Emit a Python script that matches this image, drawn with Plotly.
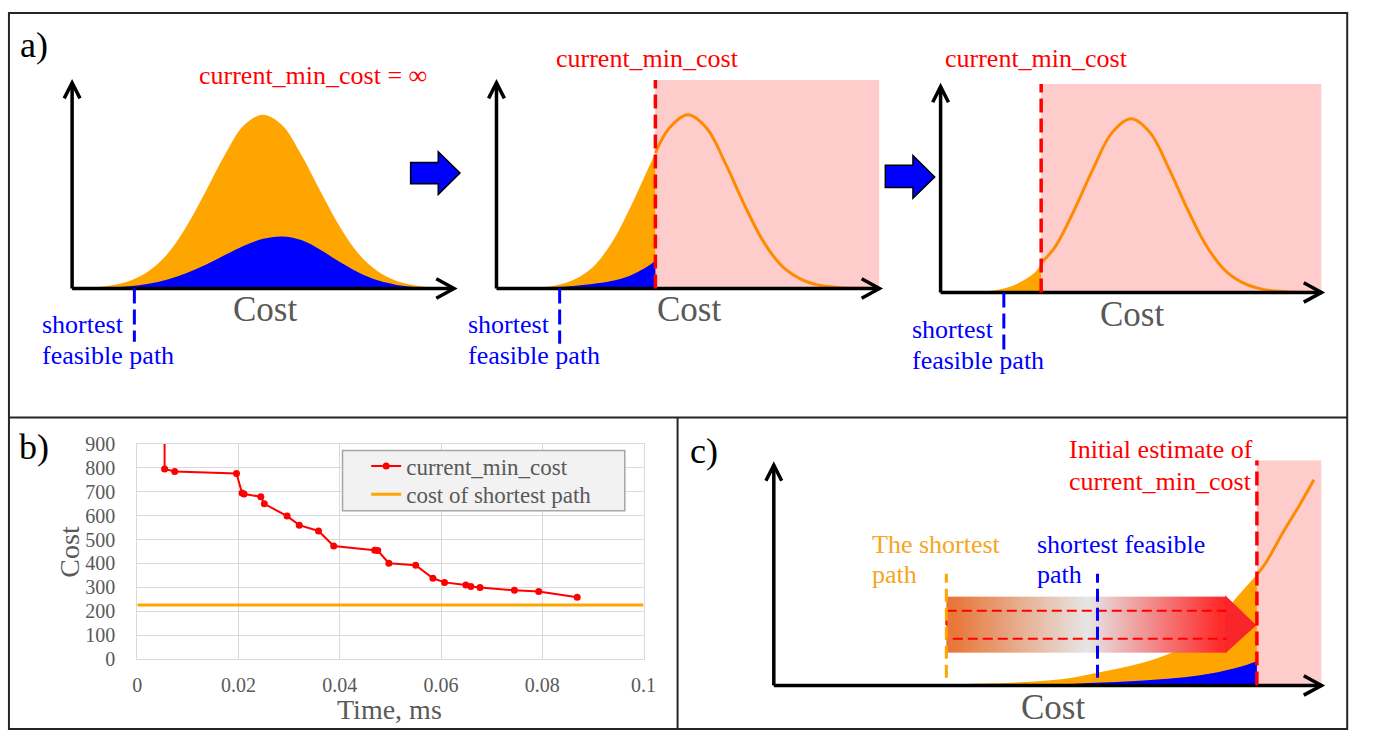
import plotly.graph_objects as go

W, H = 1375, 743
FONT = "Liberation Serif"
GRAY = "#595959"
ORANGE_FILL = "#ffa500"
ORANGE_LINE = "#ff8a00"
BLUE = "#0000ff"
RED = "#ff0000"
PINK = "#ffcccc"

# ---------------- b) chart data ----------------
TIME_MS = [0.0054, 0.0054, 0.0074, 0.0196, 0.0207, 0.0211, 0.0244, 0.0251, 0.0296, 0.0320,
           0.0358, 0.0388, 0.0469, 0.0475, 0.0497, 0.0550, 0.0584, 0.0607, 0.0649, 0.0659,
           0.0677, 0.0745, 0.0793, 0.0869]
CURRENT_MIN_COST = [1000, 795, 784, 776, 694, 690, 679, 649, 598, 560,
                    536, 473, 455, 454, 401, 393, 338, 321, 310, 304,
                    300, 288, 283, 259]
SHORTEST_PATH_COST = 226
X_TICKS = [0, 0.02, 0.04, 0.06, 0.08, 0.1]
X_TICK_LABELS = ["0", "0.02", "0.04", "0.06", "0.08", "0.1"]
Y_TICKS = [0, 100, 200, 300, 400, 500, 600, 700, 800, 900]

# ---------------- a) schematic curves (cost 0..100, height: orange peak = 100) ----------------
COST_GRID = [0, 5, 10, 15, 20, 25, 30, 35, 40, 45, 50, 55, 60, 65, 70, 75, 80, 85, 90, 95, 100]
A1_ORANGE = [0.2, 0.6, 1.7, 4.4, 10, 20, 36, 56, 77, 94, 100, 94, 77, 56, 36, 20, 10, 4.4, 1.7, 0.6, 0.2]
A1_BLUE = [0.08, 0.23, 0.57, 1.3, 2.7, 5.2, 8.9, 13.7, 19.3, 24.7, 28.6, 30, 27.9, 22.3, 15.4, 9.2, 4.7, 2.1, 0.8, 0.26, 0.06]
A1_FEASIBLE = 16.3

A2_THRESHOLD = 41.5
A2_FILL_COST = [0, 5, 10, 15, 20, 25, 30, 35, 40, 41.5]
A2_ORANGE_FILL = [0, 0.1, 0.5, 1.6, 4.9, 12, 26, 47, 71, 78]
A2_BLUE_FILL = [0, 0.1, 0.3, 0.8, 1.5, 2.6, 4.3, 7.5, 13.5, 16.2]
A2_LINE_COST = [41.5, 45, 50, 55, 60, 65, 70, 75, 80, 85, 90, 95, 100]
A2_ORANGE_LINE = [78, 92, 100, 92, 71, 47, 26, 12, 4.9, 1.6, 0.5, 0.1, 0]
A2_FEASIBLE = 16.5

A3_THRESHOLD = 26.4
A3_FILL_COST = [0, 5, 10, 15, 20, 25, 26.4]
A3_ORANGE_FILL = [0, 0.1, 0.5, 1.6, 4.9, 12, 17]
A3_BLUE_FILL = [0, 0, 0.1, 0.2, 0.4, 0.6, 0.8]
A3_LINE_COST = [26.4, 30, 35, 40, 45, 50, 55, 60, 65, 70, 75, 80, 85, 90, 95, 100]
A3_ORANGE_LINE = [17, 26, 47, 71, 92, 100, 92, 71, 47, 26, 12, 4.9, 1.6, 0.5, 0.1, 0]
A3_FEASIBLE = 16.6

# ---------------- c) schematic curves (cost 0..100, height in px units) ----------------
C_THRESHOLD = 88.2
C_FILL_COST = [15, 20, 30, 40, 45, 50, 55, 60, 65, 70, 75, 80, 85, 88.2]
C_ORANGE = [0, 0.3, 1, 2.2, 3.2, 5, 8.5, 14, 20, 28, 40, 62, 94, 114]
C_BLUE = [0, 0, 0, 0.3, 0.6, 1, 1.8, 3, 4.3, 6, 8.5, 12.5, 19, 25]
C_LINE_COST = [88.2, 90, 93, 96, 98.6]
C_LINE_H = [114, 128, 158, 186, 212]
C_SHORTEST = 31.5
C_FEASIBLE = 59.1

# colour ramp of the gradient arrow body (left -> right)
ARROW_RAMP = [0.0, 0.05, 0.1, 0.15, 0.2, 0.25, 0.3, 0.35, 0.4, 0.45, 0.5,
              0.55, 0.6, 0.65, 0.7, 0.75, 0.8, 0.85, 0.9, 0.95, 1.0]
ARROW_COLORS = [[0, "#e8773a"], [0.5, "#e6e6e6"], [1, "#ff2a2a"]]


def px(x):
    return x / W


def py(y):
    return 1 - y / H


fig = go.Figure()

# ---------------- b) chart ----------------
fig.add_trace(go.Scatter(
    x=TIME_MS, y=CURRENT_MIN_COST, mode="lines+markers", name="current_min_cost",
    line=dict(color=RED, width=2), marker=dict(color=RED, size=7),
    xaxis="x", yaxis="y", legend="legend"))
fig.add_trace(go.Scatter(
    x=[X_TICKS[0], X_TICKS[-1]], y=[SHORTEST_PATH_COST, SHORTEST_PATH_COST], mode="lines",
    name="cost of shortest path", line=dict(color=ORANGE_FILL, width=3),
    xaxis="x", yaxis="y", legend="legend2"))

fig.update_layout(
    xaxis=dict(domain=[px(134), px(647)], range=[0, 0.1], tickvals=X_TICKS, ticktext=X_TICK_LABELS,
               showgrid=True, gridcolor="#d9d9d9", gridwidth=1, showline=True, linecolor="#d9d9d9",
               mirror=True, zeroline=False, ticks="outside", ticklen=8, tickcolor="rgba(0,0,0,0)",
               tickfont=dict(family=FONT, size=20, color=GRAY), anchor="y", fixedrange=True),
    yaxis=dict(domain=[py(668), py(446)], range=[0, 900], tickvals=Y_TICKS,
               showgrid=True, gridcolor="#d9d9d9", gridwidth=1, showline=True, linecolor="#d9d9d9",
               mirror=True, zeroline=False, ticks="outside", ticklen=17, tickcolor="rgba(0,0,0,0)",
               tickfont=dict(family=FONT, size=20, color=GRAY), anchor="x", fixedrange=True),
)

# ---------------- hidden schematic axes ----------------
A_UNIT = 1.79
A_YMAX, A_YMIN = 120, -45
A_PANELS = [
    dict(idx=2, x0=68, x1=455, base=286, tip=74),
    dict(idx=3, x0=498, x1=886, base=286, tip=74),
    dict(idx=4, x0=948, x1=1334, base=290, tip=78),
]
layout_axes = {}
for p in A_PANELS:
    i = p["idx"]
    layout_axes[f"xaxis{i}"] = dict(domain=[px(p["x0"]), px(p["x1"])], range=[0, 100], visible=False,
                                    anchor=f"y{i}", fixedrange=True)
    layout_axes[f"yaxis{i}"] = dict(domain=[py(p["base"] - A_YMIN * A_UNIT), py(p["base"] - A_YMAX * A_UNIT)],
                                    range=[A_YMIN, A_YMAX], visible=False, anchor=f"x{i}", fixedrange=True)
C_PANEL = dict(x0=779, x1=1334, base=695, tip=468, top=463)
C_YMAX = C_PANEL["base"] - C_PANEL["top"]
layout_axes["xaxis5"] = dict(domain=[px(C_PANEL["x0"]), px(C_PANEL["x1"])], range=[0, 100], visible=False,
                             anchor="y5", fixedrange=True)
layout_axes["yaxis5"] = dict(domain=[py(C_PANEL["base"]), py(C_PANEL["top"])],
                             range=[0, C_YMAX], visible=False, anchor="x5", fixedrange=True)
# overlay axes so the arrow is drawn above the c) curves
layout_axes["xaxis6"] = dict(overlaying="x5", range=[0, 100], visible=False, anchor="y6", fixedrange=True)
layout_axes["yaxis6"] = dict(overlaying="y5", range=[0, C_YMAX], visible=False, anchor="x6", fixedrange=True)
fig.update_layout(**layout_axes)


def fill_trace(x, y, color, ax):
    fig.add_trace(go.Scatter(x=x, y=y, mode="lines", fill="tozeroy", fillcolor=color,
                             line=dict(width=0, color=color, shape="spline", smoothing=1.0),
                             showlegend=False, hoverinfo="skip", xaxis=f"x{ax}", yaxis=f"y{ax}"))


def line_trace(x, y, color, ax, width=3):
    fig.add_trace(go.Scatter(x=x, y=y, mode="lines",
                             line=dict(width=width, color=color, shape="spline", smoothing=1.0),
                             showlegend=False, hoverinfo="skip", xaxis=f"x{ax}", yaxis=f"y{ax}"))


# a1
fill_trace(COST_GRID, A1_ORANGE, ORANGE_FILL, 2)
fill_trace(COST_GRID, A1_BLUE, BLUE, 2)
# a2
fill_trace(A2_FILL_COST, A2_ORANGE_FILL, ORANGE_FILL, 3)
fill_trace(A2_FILL_COST, A2_BLUE_FILL, BLUE, 3)
line_trace(A2_LINE_COST, A2_ORANGE_LINE, ORANGE_LINE, 3)
# a3
fill_trace(A3_FILL_COST, A3_ORANGE_FILL, ORANGE_FILL, 4)
fill_trace(A3_FILL_COST, A3_BLUE_FILL, "#3050c0", 4)
line_trace(A3_LINE_COST, A3_ORANGE_LINE, ORANGE_LINE, 4)
# c
fill_trace(C_FILL_COST, C_ORANGE, ORANGE_FILL, 5)
fill_trace(C_FILL_COST, C_BLUE, BLUE, 5)
line_trace(C_LINE_COST, C_LINE_H, ORANGE_LINE, 5)

# gradient arrow in c: body as a smooth heatmap, head as a red polygon
AR_LEFT, AR_BASE, AR_TIP = C_SHORTEST, 82.7, 88.1
AR_BODY_LO, AR_BODY_HI, AR_HEAD_LO, AR_HEAD_HI, AR_MID = 48, 77, 33, 93, 62
n_cols = len(ARROW_RAMP)
col_w = (AR_BASE - AR_LEFT) / n_cols
fig.add_trace(go.Heatmap(
    x=[AR_LEFT + col_w * (k + 0.5) for k in range(n_cols)],
    y=[AR_BODY_LO + 0.01, AR_BODY_HI - 0.01],
    z=[ARROW_RAMP, ARROW_RAMP], zmin=0, zmax=1, zsmooth="best",
    colorscale=ARROW_COLORS, showscale=False, hoverinfo="skip", xaxis="x6", yaxis="y6"))
fig.add_trace(go.Scatter(
    x=[AR_BASE - 0.3, AR_BASE - 0.3, AR_TIP, AR_BASE - 0.3, AR_BASE - 0.3],
    y=[AR_BODY_HI, AR_HEAD_HI, AR_MID, AR_HEAD_LO, AR_BODY_LO],
    mode="lines", fill="toself", fillcolor="#f8262a", line=dict(width=0),
    showlegend=False, hoverinfo="skip", xaxis="x6", yaxis="y6"))
fig.add_trace(go.Scatter(
    x=[AR_BASE, AR_LEFT, AR_LEFT, AR_BASE],
    y=[AR_BODY_HI, AR_BODY_HI, AR_BODY_LO, AR_BODY_LO],
    mode="lines", line=dict(width=2, color=RED, dash="10px,5px"),
    showlegend=False, hoverinfo="skip", xaxis="x6", yaxis="y6"))

shapes = []

# frame
shapes.append(dict(type="rect", xref="paper", yref="paper", x0=px(4), x1=px(1360), y0=py(740), y1=py(2),
                   line=dict(color="#262626", width=2)))
shapes.append(dict(type="line", xref="paper", yref="paper", x0=px(4), x1=px(1360), y0=py(419), y1=py(419),
                   line=dict(color="#262626", width=2)))
shapes.append(dict(type="line", xref="paper", yref="paper", x0=px(681.5), x1=px(681.5), y0=py(419), y1=py(740),
                   line=dict(color="#262626", width=2)))

# legend box of chart b
shapes.append(dict(type="rect", xref="paper", yref="paper", x0=px(342), x1=px(628), y0=py(515), y1=py(453),
                   fillcolor="#f2f2f2", line=dict(color="#a6a6a6", width=1.5), layer="above"))


def axis_arrows(x0, base, x1, tip):
    blk = dict(color="black", width=3.5)
    shapes.append(dict(type="path", xref="paper", yref="paper", layer="above",
                       path=f"M {px(x0)},{py(base)} L {px(x0)},{py(tip)}", line=blk))
    shapes.append(dict(type="path", xref="paper", yref="paper", layer="above",
                       path=f"M {px(x0)},{py(base)} L {px(x1)},{py(base)}", line=blk))
    shapes.append(dict(type="path", xref="paper", yref="paper", layer="above",
                       path=f"M {px(x0 - 8)},{py(tip + 16)} L {px(x0)},{py(tip)} L {px(x0 + 8)},{py(tip + 16)}",
                       line=blk))
    shapes.append(dict(type="path", xref="paper", yref="paper", layer="above",
                       path=f"M {px(x1 - 18)},{py(base - 10)} L {px(x1)},{py(base)} L {px(x1 - 18)},{py(base + 10)}",
                       line=blk))


for p in A_PANELS:
    axis_arrows(p["x0"], p["base"], p["x1"], p["tip"])
axis_arrows(C_PANEL["x0"], C_PANEL["base"], C_PANEL["x1"], C_PANEL["tip"])

# pink regions and thresholds
for ax, thr in [(3, A2_THRESHOLD), (4, A3_THRESHOLD)]:
    shapes.append(dict(type="rect", xref=f"x{ax}", yref=f"y{ax}", x0=thr, x1=100, y0=0, y1=A_YMAX,
                       fillcolor=PINK, line=dict(width=0), layer="below"))
    shapes.append(dict(type="line", xref=f"x{ax}", yref=f"y{ax}", x0=thr, x1=thr, y0=0, y1=A_YMAX,
                       line=dict(color=RED, width=3.5, dash="14px,6px"), layer="above"))
shapes.append(dict(type="rect", xref="x5", yref="y5", x0=C_THRESHOLD, x1=100, y0=0, y1=C_YMAX,
                   fillcolor=PINK, line=dict(width=0), layer="below"))
shapes.append(dict(type="line", xref="x5", yref="y5", x0=C_THRESHOLD, x1=C_THRESHOLD, y0=0, y1=C_YMAX,
                   line=dict(color=RED, width=3.5, dash="14px,6px"), layer="above"))

# shortest feasible path markers (a)
for ax, xv, depth in [(2, A1_FEASIBLE, -30.7), (3, A2_FEASIBLE, -31.8), (4, A3_FEASIBLE, -33.5)]:
    shapes.append(dict(type="line", xref=f"x{ax}", yref=f"y{ax}", x0=xv, x1=xv, y0=0, y1=depth,
                       line=dict(color=BLUE, width=3, dash="15px,6px"), layer="above"))

# c markers
shapes.append(dict(type="line", xref="x5", yref="y5", x0=C_SHORTEST, x1=C_SHORTEST, y0=8, y1=115,
                   line=dict(color=ORANGE_FILL, width=3, dash="13px,6px"), layer="above"))
shapes.append(dict(type="line", xref="x5", yref="y5", x0=C_FEASIBLE, x1=C_FEASIBLE, y0=8, y1=115,
                   line=dict(color=BLUE, width=3, dash="13px,6px"), layer="above"))


# block arrows
def block_arrow(left, base_x, tip_x, body_top, body_bot, head_top, head_bot, tip_y):
    path = (f"M {px(left)},{py(body_top)} L {px(base_x)},{py(body_top)} L {px(base_x)},{py(head_top)} "
            f"L {px(tip_x)},{py(tip_y)} L {px(base_x)},{py(head_bot)} L {px(base_x)},{py(body_bot)} "
            f"L {px(left)},{py(body_bot)} Z")
    shapes.append(dict(type="path", xref="paper", yref="paper", path=path, fillcolor=BLUE,
                       line=dict(color="black", width=1.5), layer="above"))


block_arrow(411, 439, 461, 156, 178, 145, 189, 167)
block_arrow(892, 920, 942, 159, 182, 149, 193, 171)

fig.update_layout(shapes=shapes)

# ---------------- text ----------------
annotations = []


def text(t, x, y, color, size, xanchor="left", angle=0):
    annotations.append(dict(text=t, x=px(x), y=py(y), xref="paper", yref="paper", showarrow=False,
                            xanchor=xanchor, yanchor="middle", textangle=angle,
                            font=dict(family=FONT, size=size, color=color)))


text("a)", 13, 35, "black", 36)
text("b)", 12, 449, "black", 36)
text("c)", 692, 453, "black", 36)

text("current_min_cost = ∞", 312, 66, RED, 26, "center")
text("current_min_cost", 651, 49, RED, 26, "center")
text("current_min_cost", 1045, 49, RED, 26, "center")

for xl, y1, y2 in [(35, 323, 355), (467, 323, 355), (917, 328, 360)]:
    text("shortest", xl, y1, BLUE, 26)
    text("feasible path", xl, y2, BLUE, 26)

text("Cost", 263, 308, GRAY, 35, "center")
text("Cost", 693, 308, GRAY, 35, "center")
text("Cost", 1142, 313, GRAY, 35, "center")
text("Cost", 1062, 718, GRAY, 35, "center")

text("Initial estimate of", 1076, 452, RED, 26)
text("current_min_cost", 1076, 485, RED, 26)
text("The shortest", 876, 550, "#f5a623", 26)
text("path", 876, 581, "#f5a623", 26)
text("shortest feasible", 1044, 550, BLUE, 26)
text("path", 1044, 581, BLUE, 26)

text("Cost", 65, 557, GRAY, 28, "center", -90)
text("Time, ms", 390, 720, GRAY, 28, "center")

fig.update_layout(annotations=annotations)

LEGEND_STYLE = dict(xanchor="left", yanchor="middle", bgcolor="rgba(0,0,0,0)", borderwidth=0,
                    font=dict(family=FONT, size=23, color=GRAY), itemwidth=30)

fig.update_layout(
    width=W, height=H, autosize=False,
    margin=dict(l=0, r=0, t=0, b=0),
    paper_bgcolor="white", plot_bgcolor="rgba(0,0,0,0)",
    font=dict(family=FONT),
    showlegend=True,
    legend=dict(x=px(366), y=py(469), **LEGEND_STYLE),
    legend2=dict(x=px(366), y=py(498), **LEGEND_STYLE),
)

fig.write_html("out.html", config=dict(staticPlot=True, displayModeBar=False))
